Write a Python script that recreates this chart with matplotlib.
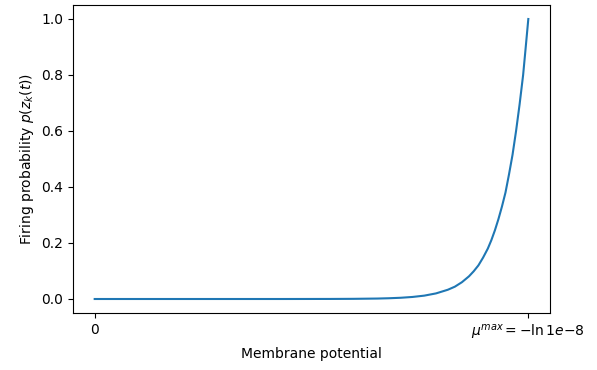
import numpy as np
import matplotlib
matplotlib.use("Agg")
import matplotlib.pyplot as plt

# membrane potential values and firing probability
potential = [0.0, 2.0, 4.0, 6.0, 8.0, 10.0, 11.0, 12.0, 12.5, 13.0, 13.5, 14.0,
             14.5, 15.0, 15.3, 15.6, 15.9, 16.1, 16.3, 16.5, 16.7, 16.85, 17.0,
             17.15, 17.3, 17.45, 17.6, 17.75, 17.9, 18.05, 18.2, 18.3, 18.4207]
firing_prob = [0.0, 0.0, 0.0, 0.0, 0.0, 0.0002, 0.0006, 0.0016, 0.0027, 0.0044,
               0.0073, 0.012, 0.02, 0.033, 0.044, 0.060, 0.081, 0.099, 0.12,
               0.148, 0.18, 0.21, 0.245, 0.285, 0.33, 0.38, 0.445, 0.515, 0.60,
               0.695, 0.80, 0.89, 1.0]

mu_max = 18.4207
xtick_pos = [0, mu_max]
xtick_labels = ['0', r'$\mu^{max} = -\ln 1e{-}8$']

dpi = 100
fig = plt.figure(figsize=(597 / dpi, 370 / dpi), dpi=dpi)
ax = fig.add_axes([73 / 597, 57 / 370, 477 / 597, 308 / 370])
ax.plot(potential, firing_prob)
ax.set_xticks(xtick_pos)
ax.set_xticklabels(xtick_labels)
ax.set_xlabel('Membrane potential')
ax.set_ylabel(r'Firing probability $p(z_k(t))$')

fig.savefig('out.png', dpi=dpi)
